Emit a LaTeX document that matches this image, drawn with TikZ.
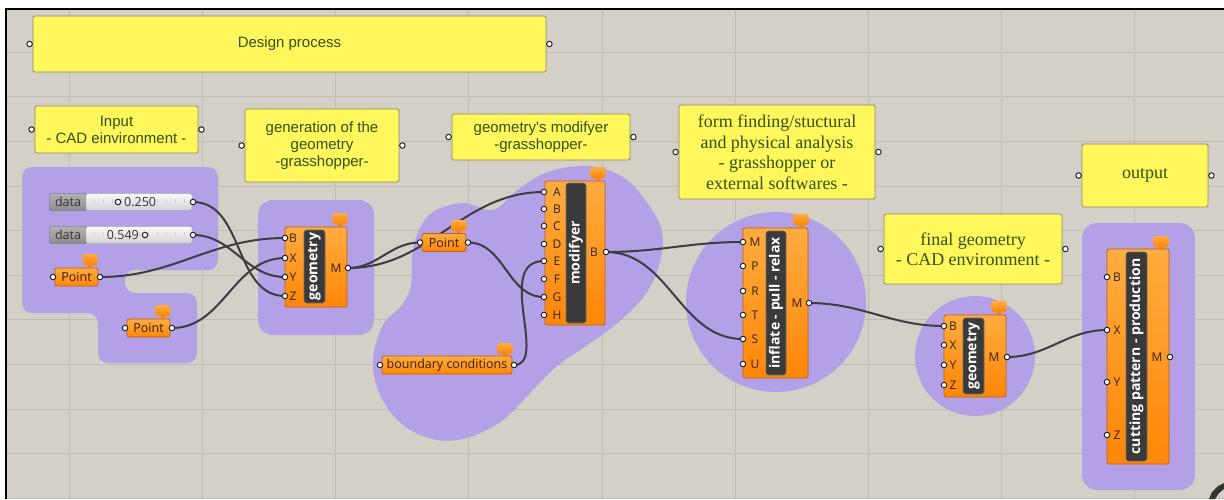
\documentclass[tikz,border=0pt]{standalone}
\usepackage{fontspec}
\newfontfamily\notesans{Liberation Sans}
\newfontfamily\noteserif{Liberation Serif}
\newfontfamily\ghfont{Open Sans}
\definecolor{canvas}{RGB}{212,208,200}
\definecolor{gridc}{RGB}{192,188,180}
\definecolor{groupfill}{RGB}{180,160,230}
\definecolor{noteyellow}{RGB}{255,247,92}
\definecolor{noteline}{RGB}{140,140,100}
\definecolor{notetext}{RGB}{48,84,18}
\definecolor{comptop}{RGB}{255,172,64}
\definecolor{compbot}{RGB}{255,134,8}
\definecolor{compline}{RGB}{190,95,20}
\definecolor{barfill}{RGB}{58,58,58}
\definecolor{barline}{RGB}{110,110,110}
\definecolor{labeltext}{RGB}{50,35,10}
\definecolor{wirec}{RGB}{62,60,66}
\definecolor{datatop}{RGB}{178,178,178}
\definecolor{databot}{RGB}{140,140,140}
\definecolor{slidetop}{RGB}{250,250,250}
\definecolor{slidebot}{RGB}{210,210,210}
\pgfdeclarelayer{bg}
\pgfdeclarelayer{wires}
\pgfsetlayers{bg,wires,main}
\begin{document}
\begin{tikzpicture}[x=1pt,y=-1pt,
    note/.style={draw=noteline,line width=0.8pt,fill=noteyellow,rounded corners=1.5pt,text=notetext,align=center,inner sep=0pt},
    sansnote/.style={note,font=\notesans\fontsize{15}{17}\selectfont},
    serifnote/.style={note,font=\noteserif\fontsize{18}{20.5}\selectfont},
    port/.style={circle,draw=black!85,fill=white,line width=1pt,inner sep=0pt,minimum size=5.5pt},
    comp/.style={draw=compline,line width=0.8pt,top color=comptop,bottom color=compbot,rounded corners=2pt,inner sep=0pt},
    namebar/.style={rotate=90,fill=barfill,draw=barline,line width=0.6pt,rounded corners=2.5pt,text=white,font=\ghfont\bfseries\fontsize{14}{14}\selectfont,inner sep=0pt,minimum height=21pt},
    plabel/.style={text=labeltext,font=\ghfont\fontsize{12}{12}\selectfont,inner sep=0pt},
    param/.style={comp,text=labeltext,font=\ghfont\fontsize{12.5}{12.5}\selectfont,minimum height=18pt},
    databox/.style={draw=black!60,top color=datatop,bottom color=databot,rounded corners=2pt,text=black!80,font=\ghfont\fontsize{12.5}{12.5}\selectfont,minimum height=17pt,inner sep=0pt},
    slidebox/.style={draw=black!40,top color=slidetop,bottom color=slidebot,rounded corners=2pt,minimum height=17pt,inner sep=0pt},
    knob/.style={circle,draw=black!85,fill=white,line width=1.1pt,inner sep=0pt,minimum size=5.5pt},
    group/.style={fill=groupfill},
    wire/.style={draw=wirec,line width=2pt},
    gridline/.style={draw=gridc,line width=0.6pt},
    tab/.pic={\fill[compbot] (-3.5,4.5) -- (3.5,4.5) -- (0,8.5) -- cycle;
      \shade[top color=comptop,bottom color=compbot,rounded corners=1.5pt] (-7.5,-6) rectangle (7.5,5);}
  ]
\useasboundingbox (0,0) rectangle (1224,499);
\begin{pgfonlayer}{bg}
\fill[white] (0,0) rectangle (1224,499);
\fill[canvas] (6,9) rectangle (1224,499);
\foreach \i in {0,...,8} \draw[gridline] ({69+133.2*\i},9) -- ({69+133.2*\i},499);
\foreach \i in {0,...,10} \draw[gridline] (6,{52+44.6*\i}) -- (1224,{52+44.6*\i});
\draw[line width=1.6pt] (6,499) -- (6,9) -- (1224,9);
\fill[group,rounded corners=10pt] (22,167) -- (218,167) -- (218,270) -- (125,270) -- (125,293) -- (197,293) -- (197,363) -- (98,363) -- (98,313) -- (22,313) -- cycle;
\fill[group,rounded corners=15pt] (258,200) rectangle (374,335);
\fill[group] plot[smooth cycle,tension=0.6] coordinates {(563,168) (597,167) (627,180) (650,207) (662,232) (660,262) (645,295) (615,325) (583,348) (557,366) (530,393) (503,420) (470,437) (437,440) (403,425) (380,395) (373,360) (383,325) (402,305) (411,285) (412,258) (418,232) (433,212) (463,203) (493,210) (515,192) (537,177)};
\fill[group] (776,302) circle (90pt);
\fill[group] (975,356) circle (60pt);
\fill[group,rounded corners=15pt] (1082,223) rectangle (1195,490);
\fill[black!80] (1209,499) -- (1212,492) -- (1218,486) -- (1224,483) -- (1224,489) -- (1219,493) -- (1215,499) -- cycle;
\end{pgfonlayer}

\node[sansnote,minimum width=513pt,minimum height=56pt] (design) at (289.5,44) {Design process};
\node[port] (design-l) at ([xshift=-3pt]design.west) {};
\node[port] (design-r) at ([xshift=3pt]design.east) {};
\node[sansnote,minimum width=163pt,minimum height=47pt] (input) at (116.5,129.5) {Input\\- CAD einvironment -};
\node[port] (input-l) at ([xshift=-3pt]input.west) {};
\node[port] (input-r) at ([xshift=3pt]input.east) {};
\node[sansnote,minimum width=154pt,minimum height=73pt] (gen) at (322,145.5) {generation of the\\geometry\\-grasshopper-};
\node[port] (gen-l) at ([xshift=-3pt]gen.west) {};
\node[port] (gen-r) at ([xshift=3pt]gen.east) {};
\node[sansnote,minimum width=178pt,minimum height=46pt] (modnote) at (541,137) {geometry's modifyer\\-grasshopper-};
\node[port] (modnote-l) at ([xshift=-3pt]modnote.west) {};
\node[port] (modnote-r) at ([xshift=3pt]modnote.east) {};
\node[serifnote,minimum width=196pt,minimum height=94pt] (form) at (777,152) {form finding/stuctural\\and physical analysis\\- grasshopper or\\external softwares -};
\node[port] (form-l) at ([xshift=-3pt]form.west) {};
\node[port] (form-r) at ([xshift=3pt]form.east) {};
\node[serifnote,minimum width=178pt,minimum height=70pt] (final) at (973,249) {final geometry\\- CAD environment -};
\node[port] (final-l) at ([xshift=-3pt]final.west) {};
\node[port] (final-r) at ([xshift=3pt]final.east) {};
\node[serifnote,minimum width=126pt,minimum height=63pt] (output) at (1145,175.5) {output};
\node[port] (output-l) at ([xshift=-3pt]output.west) {};
\node[port] (output-r) at ([xshift=3pt]output.east) {};

\node[databox,minimum width=37pt] (s1lab) at (68,202) {data};
\node[slidebox,minimum width=106pt] (s1) at (139,202) {};
\foreach \t in {0,...,10} \draw[black!18] ({94+9*\t},199) -- ++(0,4);
\node[knob] (s1knob) at (118,202) {};
\node[plabel,anchor=west,text=black!80,font=\ghfont\fontsize{12.5}{12.5}\selectfont] (s1val) at (124,202) {0.250};
\node[port] (s1out) at (193,202) {};
\node[databox,minimum width=37pt] (s2lab) at (68,235) {data};
\node[slidebox,minimum width=106pt] (s2) at (139,235) {};
\foreach \t in {0,...,10} \draw[black!18] ({94+9*\t},232) -- ++(0,4);
\node[knob] (s2knob) at (145,235) {};
\node[plabel,anchor=east,text=black!80,font=\ghfont\fontsize{12.5}{12.5}\selectfont] (s2val) at (139,235) {0.549};
\node[port] (s2out) at (193,235) {};

\pic at (90,260) {tab};
\node[param,minimum width=43pt] (p1) at (76.5,277) {Point};
\node[port] (p1in) at (53,277) {};
\node[port] (p1out) at (100,277) {};
\pic at (163,311) {tab};
\node[param,minimum width=43pt] (p2) at (148.5,328) {Point};
\node[port] (p2in) at (125,328) {};
\node[port] (p2out) at (172,328) {};

\pic at (340,219) {tab};
\node[comp,minimum width=62pt,minimum height=80pt] (geo1) at (316,267) {};
\node[namebar,minimum width=73pt] (geo1bar) at (314.5,266.5) {geometry};
\foreach \p/\y in {B/238,X/258,Y/277,Z/296}{
  \node[port] (geo1\p) at (285,\y) {};
  \node[plabel] (geo1\p-l) at (293,\y) {\p};}
\node[plabel] (geo1M-l) at (336,268) {M};
\node[port] (geo1Out) at (348,268) {};

\pic at (459,226) {tab};
\node[param,minimum width=44pt] (p3) at (444,242.5) {Point};
\node[port] (p3in) at (420,242.5) {};
\node[port] (p3out) at (468,242.5) {};
\pic at (505,349) {tab};
\node[param,minimum width=130pt] (bc) at (447,365) {boundary conditions};
\node[port] (bcin) at (380,365) {};
\node[port] (bcout) at (514,365) {};

\pic at (598,173) {tab};
\node[comp,minimum width=60pt,minimum height=144pt] (mod) at (575,253) {};
\node[namebar,minimum width=140pt,minimum height=20pt] (modbar) at (576,253) {modifyer};
\foreach \p/\y in {A/192,B/209,C/226,D/244,E/261,F/279,G/297,H/315}{
  \node[port] (mod\p) at (544,\y) {};
  \node[plabel] (mod\p-l) at (557,\y) {\p};}
\node[plabel] (modOut-l) at (594,252) {B};
\node[port] (modOut) at (606,252) {};

\pic at (801,220) {tab};
\node[comp,minimum width=65pt,minimum height=150pt] (inf) at (775.5,303) {};
\node[namebar,minimum width=144pt,minimum height=20pt] (infbar) at (776,303) {inflate - pull - relax};
\foreach \p/\y in {M/242,P/266,R/291,T/315,S/339,U/364}{
  \node[port] (inf\p) at (743,\y) {};
  \node[plabel] (inf\p-l) at (755,\y) {\p};}
\node[plabel] (infOut-l) at (797,303) {M};
\node[port] (infOut) at (809,303) {};

\pic at (999,307) {tab};
\node[comp,minimum width=62pt,minimum height=82pt] (geo2) at (975,356) {};
\node[namebar,minimum width=76pt] (geo2bar) at (973.5,356) {geometry};
\foreach \p/\y in {B/326,X/345,Y/365,Z/385}{
  \node[port] (geo2\p) at (944,\y) {};
  \node[plabel] (geo2\p-l) at (953,\y) {\p};}
\node[plabel] (geo2M-l) at (994,357) {M};
\node[port] (geo2Out) at (1007,357) {};

\pic at (1161,242) {tab};
\node[comp,minimum width=62pt,minimum height=215pt] (cut) at (1138,356.5) {};
\node[namebar,minimum width=209pt] (cutbar) at (1136.5,356.5) {cutting pattern - production};
\foreach \p/\y in {B/277,X/330,Y/382,Z/435}{
  \node[port] (cut\p) at (1107,\y) {};
  \node[plabel] (cut\p-l) at (1117,\y) {\p};}
\node[plabel] (cutM-l) at (1157,357) {M};
\node[port] (cutOut) at (1170,357) {};

\begin{pgfonlayer}{wires}
\draw[wire] (s1out.center) to[out=0,in=180] (geo1Z.center);
\draw[wire] (s2out.center) to[out=0,in=180] (geo1Y.center);
\draw[wire] (p1out.center) to[out=0,in=180] (geo1B.center);
\draw[wire] (p2out.center) to[out=0,in=180] (geo1X.center);
\draw[wire] (geo1Out.center) to[out=0,in=180] (p3in.center);
\draw[wire] (geo1Out.center) to[out=0,in=180] (modA.center);
\draw[wire] (p3out.center) to[out=0,in=180] (modG.center);
\draw[wire] (bcout.center) .. controls +(35pt,0pt) and +(-50pt,0pt) .. (modE.center);
\draw[wire] (modOut.center) to[out=0,in=180] (infM.center);
\draw[wire] (modOut.center) to[out=0,in=180] (infS.center);
\draw[wire] (infOut.center) to[out=0,in=180] (geo2B.center);
\draw[wire] (geo2Out.center) to[out=0,in=180] (cutX.center);
\end{pgfonlayer}
\end{tikzpicture}
\end{document}
